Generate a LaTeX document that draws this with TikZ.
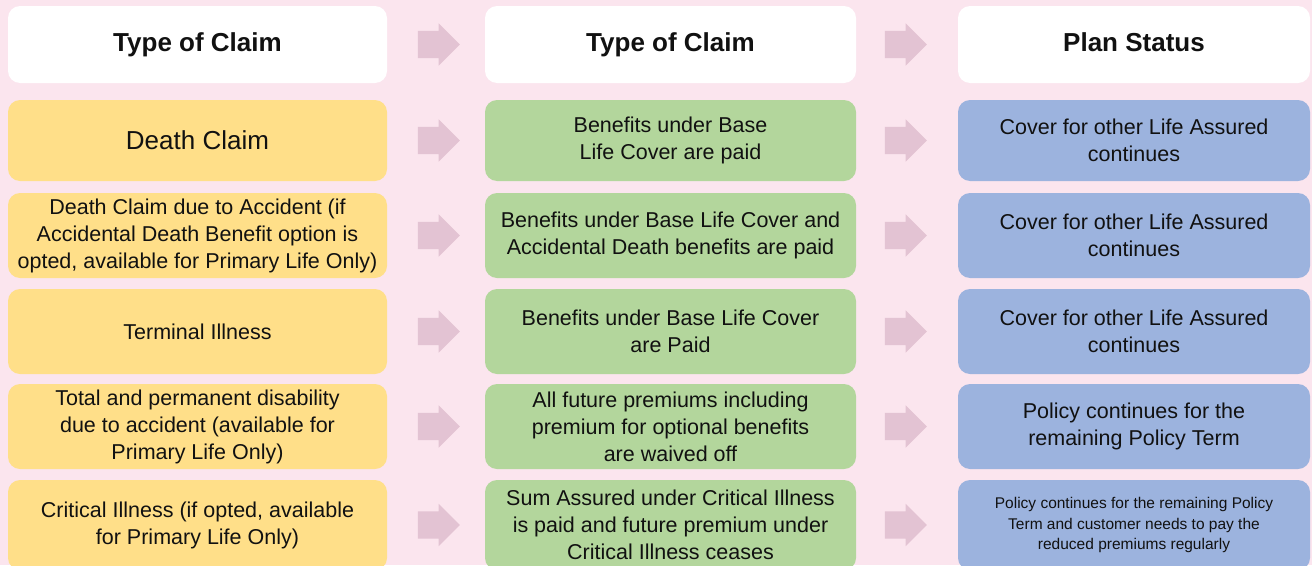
\documentclass[tikz,border=0pt]{standalone}
\usepackage{fontspec}
\setmainfont{Liberation Sans}
\usetikzlibrary{shapes.arrows,calc}

\definecolor{fundo}{HTML}{FBE5EE}
\definecolor{seta}{HTML}{E3C3D3}
\definecolor{amarelo}{HTML}{FFDF89}
\definecolor{verde}{HTML}{B3D69C}
\definecolor{azul}{HTML}{9CB3DE}
\definecolor{texto}{HTML}{111111}

\tikzset{
  caixa/.style={rounded corners=12pt,inner sep=0pt,align=center,text=texto,
    font=\fontsize{21.5pt}{27pt}\selectfont},
  cab/.style={caixa,fill=white,minimum height=77pt,
    font=\fontsize{26pt}{30pt}\selectfont\bfseries},
  c1/.style={caixa,fill=amarelo,minimum width=379pt},
  c2/.style={caixa,fill=verde,minimum width=371pt},
  c3/.style={caixa,fill=azul,minimum width=352pt},
  blocoseta/.style={single arrow,fill=seta,inner xsep=0pt,inner ysep=13.5pt,
    minimum height=42pt,single arrow head extend=7.5pt,single arrow tip angle=90}
}

\begin{document}
\begin{tikzpicture}[x=1pt,y=-1pt]
  %fundo
  \fill[fundo] (0,0) rectangle (1312,565);
  \useasboundingbox (0,0) rectangle (1312,565);

  %cabecalho
  \node[cab,minimum width=379pt] (h1) at (197.5,44.5) {Type of Claim};
  \node[cab,minimum width=371pt] (h2) at (670.5,44.5) {Type of Claim};
  \node[cab,minimum width=352pt] (h3) at (1134,44.5) {Plan Status\vphantom{Ty}};

  %primeira coluna
  \node[c1,minimum height=81pt,font=\fontsize{26pt}{30pt}\selectfont] (r1c1) at (197.5,140.5) {Death Claim};
  \node[c1,minimum height=85pt] (r2c1) at (197.5,235.5) {Death Claim due to Accident (if\\Accidental Death Benefit option is\\opted, available for Primary Life Only)};
  \node[c1,minimum height=85pt] (r3c1) at (197.5,331.5) {Terminal Illness};
  \node[c1,minimum height=85pt] (r4c1) at (197.5,426.5) {Total and permanent disability\\due to accident (available for\\Primary Life Only)};
  \node[c1,minimum height=90pt] (r5c1) at (197.5,525) {Critical Illness (if opted, available\\for Primary Life Only)};

  %segunda coluna
  \node[c2,minimum height=81pt] (r1c2) at (670.5,140.5) {Benefits under Base\\Life Cover are paid};
  \node[c2,minimum height=85pt] (r2c2) at (670.5,235.5) {Benefits under Base Life Cover and\\Accidental Death benefits are paid};
  \node[c2,minimum height=85pt] (r3c2) at (670.5,331.5) {Benefits under Base Life Cover\\are Paid};
  \node[c2,minimum height=85pt] (r4c2) at (670.5,426.5) {All future premiums including\\premium for optional benefits\\are waived off};
  \node[c2,minimum height=90pt] (r5c2) at (670.5,525) {Sum Assured under Critical Illness\\is paid and future premium under\\Critical Illness ceases};

  %terceira coluna
  \node[c3,minimum height=81pt] (r1c3) at (1134,140.5) {Cover for other Life Assured\\continues};
  \node[c3,minimum height=85pt] (r2c3) at (1134,235.5) {Cover for other Life Assured\\continues};
  \node[c3,minimum height=85pt] (r3c3) at (1134,331.5) {Cover for other Life Assured\\continues};
  \node[c3,minimum height=85pt] (r4c3) at (1134,426.5) {Policy continues for the\\remaining Policy Term};
  \node[c3,minimum height=90pt,font=\fontsize{15.5pt}{20.5pt}\selectfont] (r5c3) at (1134,525) {Policy continues for the remaining Policy\\Term and customer needs to pay the\\reduced premiums regularly};

  %setas entre as colunas
  \node[blocoseta] (s0a) at ($(h1.east)!0.5!(h2.west)+(-4,0)$) {};
  \node[blocoseta] (s0b) at ($(h2.east)!0.5!(h3.west)+(-8,0)$) {};
  \foreach \r in {1,...,5}{
    \node[blocoseta] (s\r a) at ($(r\r c1.east)!0.5!(r\r c2.west)+(-4,0)$) {};
    \node[blocoseta] (s\r b) at ($(r\r c2.east)!0.5!(r\r c3.west)+(-8,0)$) {};
  }
\end{tikzpicture}
\end{document}
